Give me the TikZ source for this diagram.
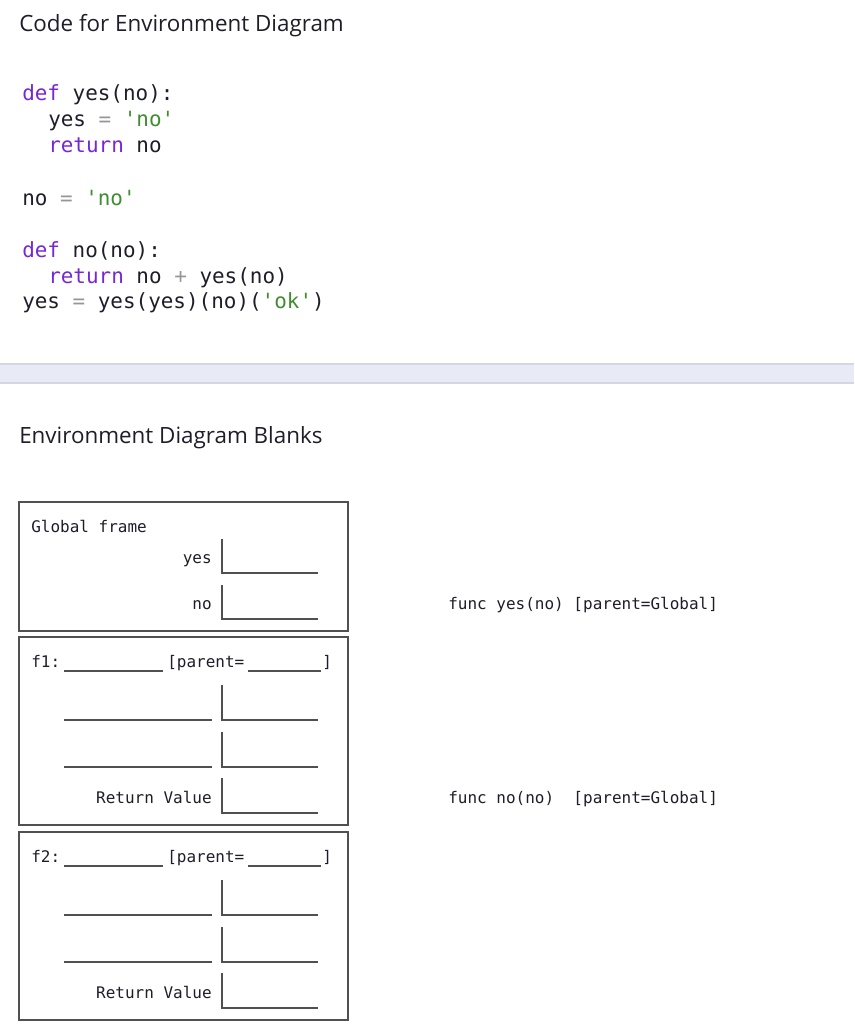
\documentclass[tikz,border=0pt]{standalone}
\usepackage{fontspec}
\setmainfont{Open Sans}
\setmonofont{DejaVu Sans Mono}
\usepackage{xcolor}
\usetikzlibrary{positioning}

\definecolor{kwpurple}{RGB}{118,40,214}
\definecolor{strgreen}{RGB}{64,140,48}
\definecolor{opgrey}{RGB}{150,150,150}
\definecolor{ink}{RGB}{30,30,42}
\definecolor{bandfill}{RGB}{232,235,245}
\definecolor{bandline}{RGB}{212,215,226}
\definecolor{boxline}{RGB}{80,80,80}

\newcommand{\pykw}[1]{\textcolor{kwpurple}{#1}}
\newcommand{\pystr}[1]{\textcolor{strgreen}{#1}}
\newcommand{\pyop}[1]{\textcolor{opgrey}{#1}}

\begin{document}
\begin{tikzpicture}[
    x=0.75pt, y=-0.75pt,
    heading/.style={anchor=base west, inner sep=0pt, text=ink, font=\fontsize{16.8}{19}\selectfont},
    code/.style={anchor=base west, inner sep=0pt, text=ink, font=\ttfamily\fontsize{15.7}{18}\selectfont},
    small/.style={anchor=base west, inner sep=0pt, text=ink, font=\ttfamily\fontsize{12}{14}\selectfont},
    smallr/.style={small, anchor=base east},
    framebox/.style={draw=boxline, line width=1.6pt},
    slot/.style={draw=boxline, line width=1pt},
    blank/.style={draw=boxline, line width=1pt}
]
\useasboundingbox (0,0) rectangle (854,1024);

% code part
\node[heading] (title) at (19,32) {Code for Environment Diagram};
\node[code] (c1) at (22,100) {\pykw{def} yes(no):};
\node[code] (c2) at (48,127) {yes \pyop{=} \pystr{'no'}};
\node[code] (c3) at (48,152) {\pykw{return} no};
\node[code] (c4) at (22,205) {no \pyop{=} \pystr{'no'}};
\node[code] (c5) at (22,257) {\pykw{def} no(no):};
\node[code] (c6) at (48,283) {\pykw{return} no \pyop{+} yes(no)};
\node[code] (c7) at (22,308) {yes \pyop{=} yes(yes)(no)(\pystr{'ok'})};

% separator band
\fill[bandfill] (0,364) rectangle (854,383);
\draw[bandline, line width=0.8pt] (0,364) -- (854,364);
\draw[bandline, line width=0.8pt] (0,383) -- (854,383);

\node[heading] (blanks) at (19,443) {Environment Diagram Blanks};

% global frame
\draw[framebox] (19,502) rectangle (348,631);
\node[small] (glabel) at (31,532) {Global frame};
\node[smallr] (gyes) at (212,563) {yes};
\node[smallr] (gno) at (212,609) {no};
\draw[slot] (222,539) |- (318,573);
\draw[slot] (222,585) |- (318,619);

% f1 frame
\draw[framebox] (19,637) rectangle (348,825);
\node[small] (fone) at (31,667) {f1:};
\draw[blank] (64,671) -- (163,671);
\node[small] (fonepar) at (167,667) {[parent=};
\draw[blank] (248,671) -- (321,671);
\node[small] (fonebr) at (322,667) {]};
\draw[blank] (64,720) -- (212,720);
\draw[slot] (222,685) |- (318,720);
\draw[blank] (64,767) -- (212,767);
\draw[slot] (222,732) |- (318,767);
\node[smallr] (fonert) at (212,803) {Return Value};
\draw[slot] (222,778) |- (318,813);

% f2 frame
\draw[framebox] (19,832) rectangle (348,1020);
\node[small] (ftwo) at (31,862) {f2:};
\draw[blank] (64,866) -- (163,866);
\node[small] (ftwopar) at (167,862) {[parent=};
\draw[blank] (248,866) -- (321,866);
\node[small] (ftwobr) at (322,862) {]};
\draw[blank] (64,915) -- (212,915);
\draw[slot] (222,880) |- (318,915);
\draw[blank] (64,962) -- (212,962);
\draw[slot] (222,927) |- (318,962);
\node[smallr] (ftwort) at (212,998) {Return Value};
\draw[slot] (222,973) |- (318,1008);

% function objects
\node[small] (fyes) at (448,609) {func yes(no) [parent=Global]};
\node[small] (fno) at (448,803) {func no(no)\ \ [parent=Global]};
\end{tikzpicture}
\end{document}
